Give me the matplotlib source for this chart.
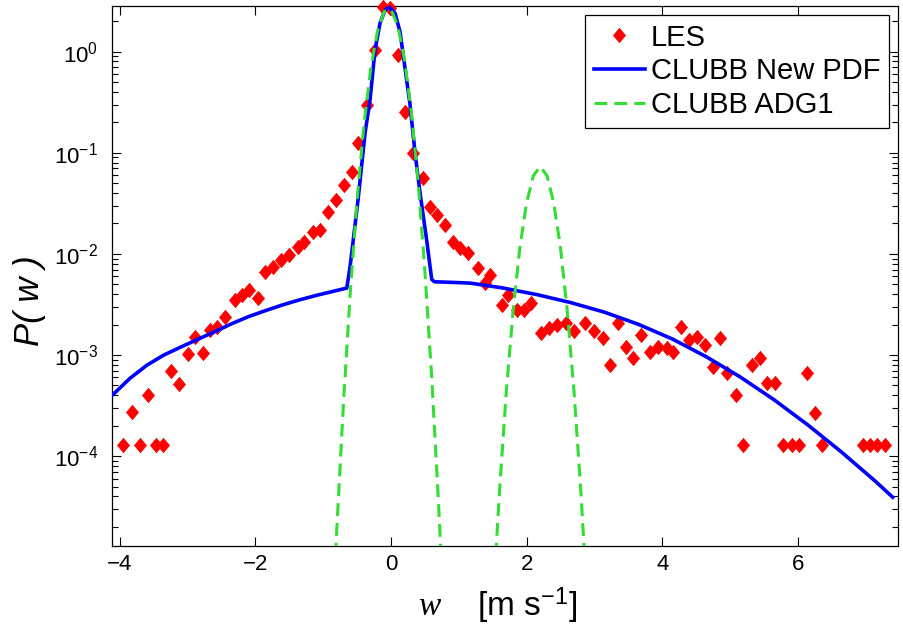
import numpy as np
import matplotlib
matplotlib.use("Agg")
import matplotlib.pyplot as plt
from matplotlib.ticker import LogLocator, NullFormatter, NullLocator

# LES histogram of vertical velocity
les_w = [-3.95, -3.82, -3.70, -3.58, -3.47, -3.36, -3.25, -3.13, -2.99, -2.89,
         -2.77, -2.67, -2.57, -2.45, -2.30, -2.20, -2.09, -1.96, -1.86, -1.74,
         -1.62, -1.50, -1.37, -1.28, -1.15, -1.05, -0.93, -0.81, -0.69, -0.58,
         -0.49, -0.35, -0.24, -0.12, -0.02, 0.10, 0.21, 0.32, 0.47, 0.58,
         0.68, 0.80, 0.91, 1.02, 1.14, 1.28, 1.39, 1.46, 1.64, 1.73,
         1.86, 1.96, 2.07, 2.21, 2.33, 2.45, 2.58, 2.70, 2.86, 2.99,
         3.13, 3.23, 3.35, 3.47, 3.57, 3.69, 3.82, 3.94, 4.07, 4.16,
         4.28, 4.40, 4.51, 4.63, 4.75, 4.85, 4.96, 5.09, 5.19, 5.32,
         5.44, 5.55, 5.66, 5.78, 5.91, 6.02, 6.14, 6.25, 6.36, 6.96,
         7.07, 7.17, 7.29]
les_p = [1.3e-4, 2.7e-4, 1.3e-4, 4.0e-4, 1.3e-4, 1.3e-4, 7.0e-4, 5.2e-4, 1.03e-3, 1.52e-3,
         1.05e-3, 1.78e-3, 1.91e-3, 2.39e-3, 3.52e-3, 3.94e-3, 4.42e-3, 3.68e-3, 6.65e-3, 7.45e-3,
         8.74e-3, 9.8e-3, 1.17e-2, 1.32e-2, 1.65e-2, 1.73e-2, 2.61e-2, 3.43e-2, 4.82e-2, 6.48e-2,
         0.125, 0.297, 1.04, 2.75, 2.70, 0.93, 0.254, 0.0998, 0.0565, 0.0292,
         0.0243, 0.0194, 0.0132, 0.0115, 0.0103, 7.3e-3, 5.2e-3, 6.2e-3, 3.14e-3, 3.94e-3,
         2.80e-3, 2.80e-3, 3.29e-3, 1.66e-3, 1.86e-3, 1.99e-3, 2.08e-3, 1.74e-3, 2.08e-3, 1.74e-3,
         1.48e-3, 8.0e-4, 2.08e-3, 1.21e-3, 9.4e-4, 1.59e-3, 1.08e-3, 1.21e-3, 1.18e-3, 1.08e-3,
         1.91e-3, 1.42e-3, 1.52e-3, 1.26e-3, 7.66e-4, 1.48e-3, 6.7e-4, 4.06e-4, 1.3e-4, 8.0e-4,
         9.4e-4, 5.3e-4, 5.3e-4, 1.3e-4, 1.3e-4, 1.3e-4, 6.7e-4, 2.69e-4, 1.3e-4, 1.3e-4,
         1.3e-4, 1.3e-4, 1.3e-4]

# CLUBB with the new PDF
new_w = [-4.10, -3.85, -3.60, -3.35, -3.10, -2.85, -2.60, -2.35, -2.10, -1.85,
         -1.60, -1.35, -1.10, -0.85, -0.653, -0.605, -0.487, -0.383, -0.31, -0.236,
         -0.162, -0.088, -0.03, 0.059, 0.133, 0.28, 0.354, 0.428, 0.527, 0.60,
         0.64, 0.90, 1.17, 1.66, 2.15, 2.65, 3.15, 3.65, 4.15, 4.65,
         5.15, 5.65, 6.15, 6.65, 7.15, 7.40]
new_p = [4.07e-4, 5.89e-4, 7.94e-4, 1.0e-3, 1.20e-3, 1.43e-3, 1.70e-3, 2.04e-3, 2.40e-3, 2.75e-3,
         3.13e-3, 3.51e-3, 3.89e-3, 4.27e-3, 4.59e-3, 7.4e-3, 0.034, 0.157, 0.333, 1.04,
         1.92, 2.58, 2.77, 2.41, 1.57, 0.30, 0.10, 0.040, 0.0135, 5.6e-3,
         5.30e-3, 5.23e-3, 5.14e-3, 4.59e-3, 3.96e-3, 3.30e-3, 2.65e-3, 2.01e-3, 1.44e-3, 9.61e-4,
         6.07e-4, 3.61e-4, 2.03e-4, 1.09e-4, 5.60e-5, 3.92e-5]

# CLUBB with ADG1 closure
adg_w = [-0.90, -0.80, -0.70, -0.60, -0.50, -0.40, -0.30, -0.20, -0.10, 0.00,
         0.10, 0.20, 0.30, 0.40, 0.50, 0.60, 0.70, 0.80,
         1.40, 1.50, 1.60, 1.70, 1.80, 1.90, 2.00, 2.10, 2.20, 2.30,
         2.40, 2.50, 2.60, 2.70, 2.80, 2.90, 3.00]
adg_p = [6.7e-7, 1.9e-5, 3.5e-4, 4.3e-3, 0.0349, 0.189, 0.673, 1.59, 2.51, 2.62,
         1.80, 0.826, 0.251, 0.0506, 6.7e-3, 6.0e-4, 3.5e-5, 1.4e-6,
         1.4e-7, 3.1e-6, 4.5e-5, 4.3e-4, 2.7e-3, 0.0115, 0.0321, 0.0594, 0.0730, 0.0594,
         0.0321, 0.0115, 2.7e-3, 4.3e-4, 4.5e-5, 3.1e-6, 1.4e-7]

x_ticks = [-4, -2, 0, 2, 4, 6]

plt.rcParams["font.family"] = ["Liberation Sans", "DejaVu Sans"]
plt.rcParams["mathtext.fontset"] = "custom"
plt.rcParams["mathtext.rm"] = "Liberation Sans"
plt.rcParams["mathtext.it"] = "Liberation Serif:italic"
plt.rcParams["mathtext.sf"] = "Liberation Sans"

fig = plt.figure(figsize=(9.04, 6.34), dpi=100)
ax = fig.add_axes([0.1236, 0.1393, 0.8695, 0.8512])
ax.set_yscale("log")

diamond = [(0, 1), (0.85, 0), (0, -1), (-0.85, 0), (0, 1)]
ax.plot(les_w, les_p, linestyle="none", marker=diamond, ms=10.3,
        mfc="#ff0000", mec="#ff0000", mew=0.5, clip_on=False, label="LES", zorder=3)
ax.plot(new_w, new_p, color="#0000ff", lw=2.6, label="CLUBB New PDF", zorder=4)
ax.plot(adg_w, adg_p, color="#33dd33", lw=2.2, dashes=(4.2, 2.3),
        label="CLUBB ADG1", zorder=5)

ax.set_xlim(-4.12, 7.475)
ax.set_ylim(1.3e-5, 2.83)
ax.set_xticks(x_ticks)
ax.xaxis.set_minor_locator(NullLocator())
ax.yaxis.set_major_locator(LogLocator(base=10, numticks=20))
ax.yaxis.set_minor_locator(LogLocator(base=10, subs=np.arange(2, 10), numticks=20))
ax.yaxis.set_minor_formatter(NullFormatter())

ax.tick_params(which="both", direction="in", top=True, right=True, width=0.8,
               labelsize=16)
ax.tick_params(which="major", length=6.5)
ax.tick_params(which="minor", length=4.5)
ax.tick_params(axis="x", pad=6)
ax.tick_params(axis="y", pad=10)
for s in ax.spines.values():
    s.set_linewidth(0.9)

ax.set_xlabel(r"$w$    [m s$^{\mathdefault{-1}}$]", fontsize=24)
ax.xaxis.set_label_coords(0.491, -0.075)
ax.set_ylabel("P( w )", fontsize=25, fontstyle="italic")
ax.yaxis.set_label_coords(-0.084, 0.455)

leg = ax.legend(loc="upper right", fontsize=21, numpoints=1, fancybox=False,
                framealpha=1, edgecolor="black", borderaxespad=0.3,
                handlelength=1.75, handletextpad=0.2, labelspacing=0.2,
                borderpad=0.3)
leg.get_frame().set_linewidth(0.9)

fig.savefig("out.png", dpi=100)
